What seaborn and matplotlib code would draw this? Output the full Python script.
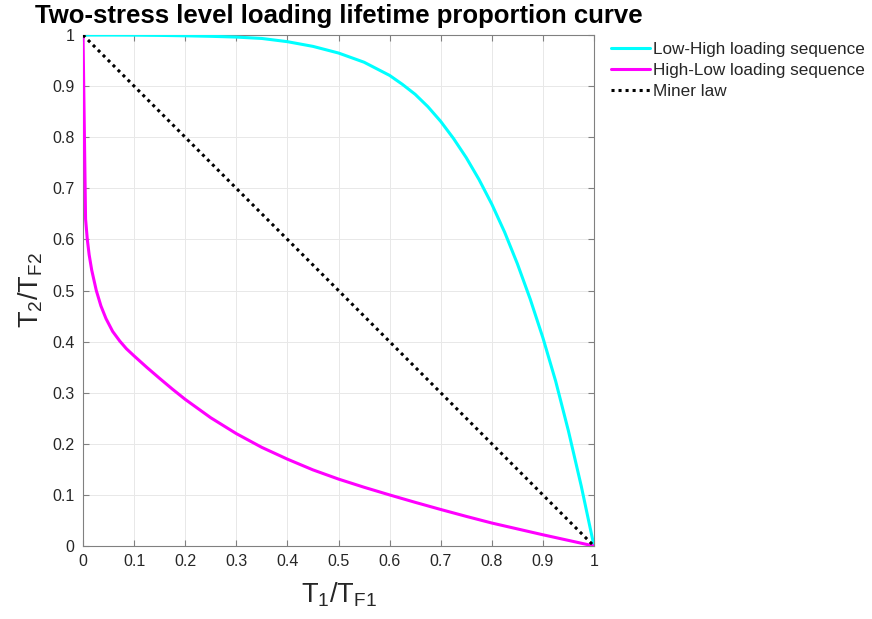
import numpy as np
import pandas as pd
import matplotlib
matplotlib.use("Agg")
import matplotlib.pyplot as plt
import seaborn as sns
from matplotlib.ticker import FormatStrFormatter

# Low-High loading sequence: T1/TF1 vs T2/TF2
low_high_x = [0.0, 0.05, 0.1, 0.15, 0.2, 0.25, 0.3, 0.35, 0.4, 0.45, 0.5, 0.55, 0.6, 0.625,
              0.65, 0.675, 0.7, 0.725, 0.75, 0.775, 0.8, 0.825, 0.85, 0.875, 0.9, 0.925,
              0.95, 0.975, 1.0]
low_high_y = [1.0, 1.0, 0.9998, 0.9993, 0.9985, 0.9975, 0.996, 0.9933, 0.987, 0.9778, 0.9648,
              0.9468, 0.921, 0.9035, 0.884, 0.8597, 0.831, 0.7976, 0.760, 0.7172, 0.669,
              0.6144, 0.5525, 0.4837, 0.4075, 0.3225, 0.225, 0.1175, 0.0]

# High-Low loading sequence
high_low_x = [0.0, 0.005, 0.0084, 0.012, 0.017, 0.026, 0.035, 0.045, 0.058, 0.072, 0.085, 0.1,
              0.125, 0.15, 0.175, 0.2, 0.25, 0.3, 0.35, 0.4, 0.45, 0.5, 0.55, 0.6, 0.65, 0.7,
              0.75, 0.8, 0.85, 0.9, 0.95, 1.0]
high_low_y = [1.0, 0.64, 0.60, 0.57, 0.54, 0.50, 0.47, 0.445, 0.42, 0.401, 0.386, 0.372,
              0.3495, 0.328, 0.307, 0.287, 0.251, 0.220, 0.193, 0.170, 0.149, 0.131, 0.115,
              0.100, 0.0855, 0.0715, 0.058, 0.045, 0.0335, 0.022, 0.011, 0.0]

# Linear damage accumulation (Miner)
miner_x = [0.0, 1.0]
miner_y = [1.0, 0.0]

series_names = ["Low-High loading sequence", "High-Low loading sequence", "Miner law"]
series_colors = ["#00FFFF", "#FF00FF", "#000000"]
tick_values = [0, 0.1, 0.2, 0.3, 0.4, 0.5, 0.6, 0.7, 0.8, 0.9, 1]

df = pd.concat([
    pd.DataFrame({"x": low_high_x, "y": low_high_y, "series": series_names[0]}),
    pd.DataFrame({"x": high_low_x, "y": high_low_y, "series": series_names[1]}),
    pd.DataFrame({"x": miner_x, "y": miner_y, "series": series_names[2]}),
], ignore_index=True)

sns.set_theme(style="white")
plt.rcParams["font.family"] = ["Liberation Sans", "DejaVu Sans"]
plt.rcParams["mathtext.fontset"] = "custom"
plt.rcParams["mathtext.rm"] = "Liberation Sans"
plt.rcParams["mathtext.it"] = "Liberation Sans"

fig = plt.figure(figsize=(8.72, 6.19), dpi=100)
ax = fig.add_axes([0.0952, 0.1179, 0.586, 0.8255])

line_styles = {"Low-High loading sequence": "-",
               "High-Low loading sequence": "-",
               "Miner law": (0, (1, 1.3))}
for name, color in zip(series_names, series_colors):
    sub = df[df["series"] == name]
    sns.lineplot(data=sub, x="x", y="y", ax=ax, color=color, linestyle=line_styles[name],
                 linewidth=2.2, sort=False, estimator=None, label=name, zorder=3)

ax.set_xlim(0, 1)
ax.set_ylim(0, 1)
ax.set_xticks(tick_values)
ax.set_yticks(tick_values)
ax.xaxis.set_major_formatter(FormatStrFormatter("%g"))
ax.yaxis.set_major_formatter(FormatStrFormatter("%g"))
ax.tick_params(direction="in", length=4, width=0.8, color="#808080",
               labelsize=11.5, labelcolor="#262626", top=True, right=True,
               bottom=True, left=True, pad=6)
ax.grid(True, color="#e8e8e8", linewidth=0.7)
for sp in ax.spines.values():
    sp.set_visible(True)
    sp.set_color("#808080")
    sp.set_linewidth(0.8)

ax.set_xlabel(r"$\mathregular{T_1/T_{F1}}$", fontsize=19.5, color="#262626", labelpad=8)
ax.set_ylabel(r"$\mathregular{T_2/T_{F2}}$", fontsize=19.5, color="#262626", labelpad=5)
ax.set_title("Two-stress level loading lifetime proportion curve",
             fontsize=18.5, fontweight="bold", color="black", pad=8.8)

leg = ax.legend(loc="upper left", bbox_to_anchor=(1.02, 1.0), frameon=False,
                fontsize=12.3, handlelength=2.3, handletextpad=0.15,
                borderaxespad=0.0, labelspacing=0.36)

fig.savefig("out.png", dpi=100)
